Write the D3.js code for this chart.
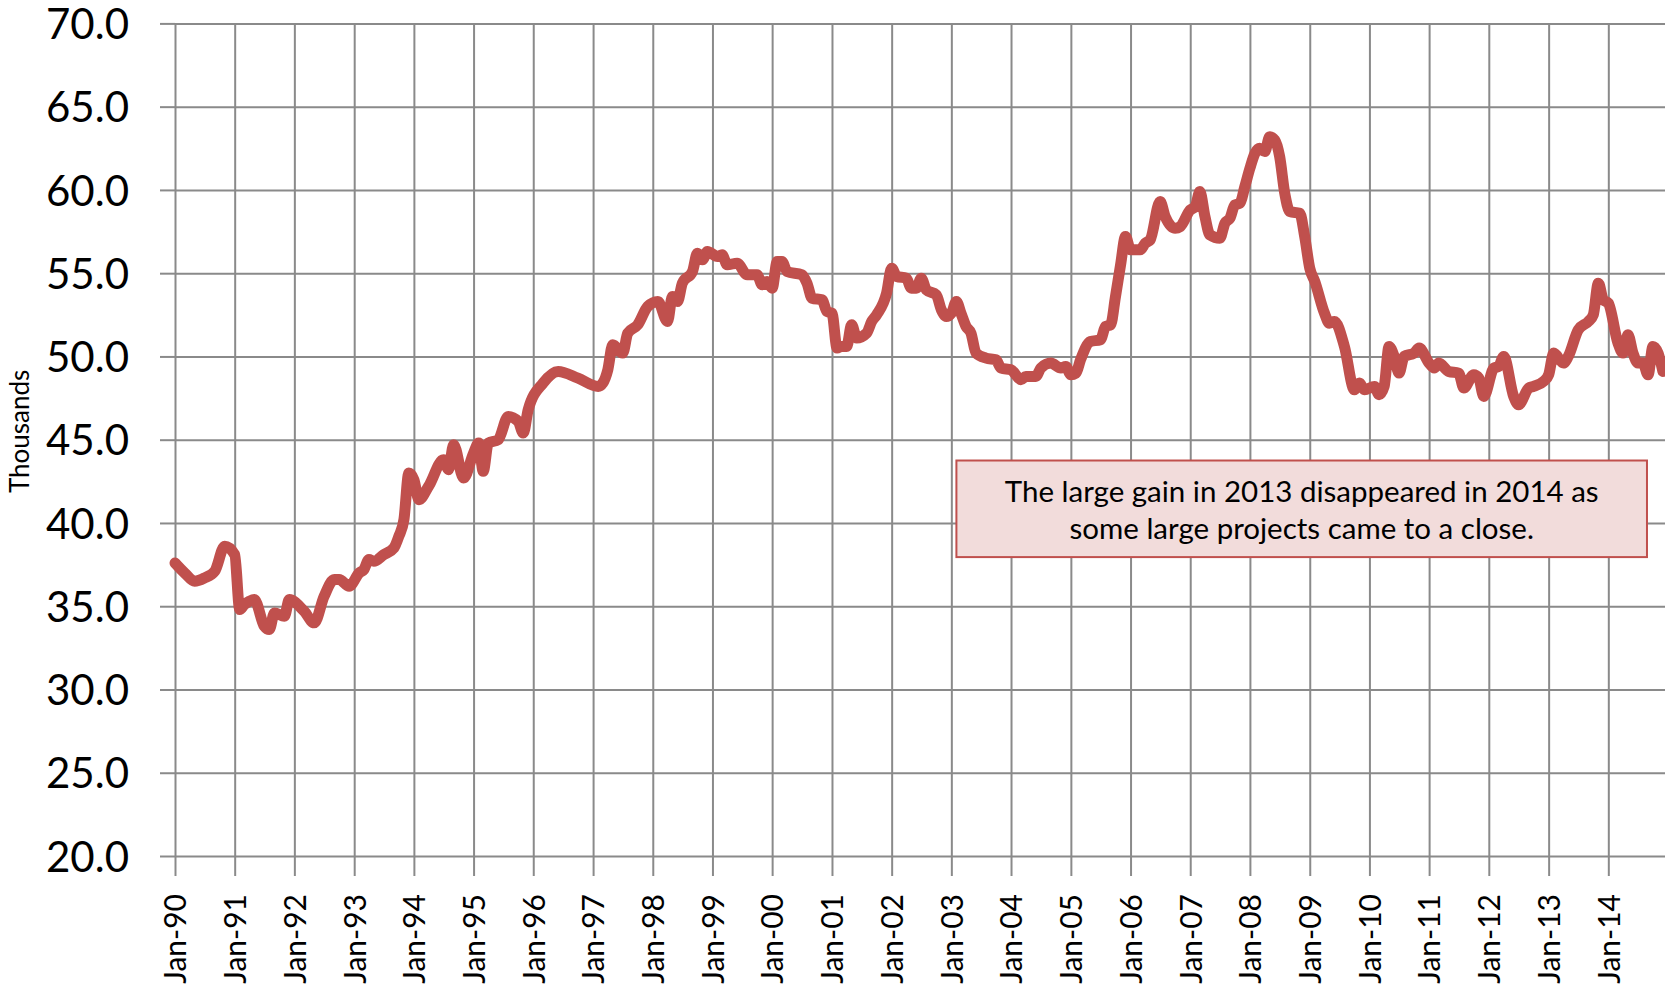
<!DOCTYPE html>
<html>
<head>
<meta charset="utf-8">
<title>Thousands, 1990-2014</title>
<script src="https://d3js.org/d3.v7.min.js"></script>
<style>
  body { margin: 0; background: #fff; }
  svg { display: block; }
  .grid line { stroke: #8a8a8a; stroke-width: 2; }
  .tick text { font-family: Lato, "Open Sans", sans-serif; fill: #000; }
  .series { fill: none; stroke: #c0504d; stroke-width: 11; stroke-linejoin: round; stroke-linecap: round; }
  .note rect { fill: #f2dcdb; stroke: #c0504d; stroke-width: 2; }
  .note text { font-family: Lato, "Open Sans", sans-serif; font-size: 29.5px; fill: #000; text-anchor: middle; }
</style>
</head>
<body>
<div id="chart"></div>
<script>
// months (YYYY-MM) and values, in thousands
var months = [
  "1990-01","1990-03","1990-05","1990-07","1990-09","1990-11","1991-01","1991-02","1991-03","1991-04",
  "1991-05","1991-07","1991-08","1991-09","1991-11","1991-12","1992-03","1992-05","1992-07","1992-09",
  "1992-10","1992-12","1993-02","1993-03","1993-04","1993-05","1993-07","1993-09","1993-10","1993-11",
  "1993-12","1994-01","1994-02","1994-04","1994-07","1994-08","1994-09","1994-11","1995-01","1995-02",
  "1995-03","1995-04","1995-06","1995-08","1995-10","1995-11","1995-12","1996-03","1996-06","1996-10",
  "1997-02","1997-03","1997-04","1997-05","1997-07","1997-08","1997-10","1997-12","1998-02","1998-04",
  "1998-05","1998-06","1998-07","1998-09","1998-10","1998-11","1998-12","1999-02","1999-03","1999-04",
  "1999-06","1999-08","1999-10","1999-11","1999-12","2000-01","2000-02","2000-03","2000-04","2000-07",
  "2000-08","2000-09","2000-11","2000-12","2001-01","2001-02","2001-03","2001-04","2001-05","2001-06",
  "2001-08","2001-09","2001-10","2001-12","2002-01","2002-02","2002-04","2002-05","2002-06","2002-07",
  "2002-08","2002-10","2002-11","2002-12","2003-01","2003-02","2003-03","2003-04","2003-05","2003-06",
  "2003-08","2003-10","2003-11","2004-01","2004-03","2004-04","2004-06","2004-07","2004-09","2004-11",
  "2004-12","2005-01","2005-02","2005-03","2005-05","2005-07","2005-08","2005-09","2005-10","2005-11",
  "2005-12","2006-01","2006-03","2006-04","2006-05","2006-07","2006-08","2006-10","2006-11","2007-01",
  "2007-02","2007-03","2007-04","2007-05","2007-07","2007-08","2007-09","2007-10","2007-11","2007-12",
  "2008-01","2008-02","2008-03","2008-04","2008-05","2008-06","2008-07","2008-08","2008-09","2008-11",
  "2008-12","2009-01","2009-02","2009-04","2009-05","2009-06","2009-08","2009-10","2009-11","2009-12",
  "2010-02","2010-03","2010-04","2010-05","2010-06","2010-07","2010-08","2010-10","2010-11","2011-01",
  "2011-02","2011-03","2011-05","2011-07","2011-08","2011-10","2011-11","2011-12","2012-02","2012-03",
  "2012-04","2012-06","2012-07","2012-09","2012-10","2012-12","2013-01","2013-02","2013-04","2013-05",
  "2013-07","2013-09","2013-10","2013-11","2013-12","2014-01","2014-03","2014-04","2014-05","2014-06",
  "2014-07","2014-08","2014-09","2014-10","2014-11","2014-12"
];
var values = [
  37.6, 37.0, 36.5, 36.7, 37.1, 38.6, 38.1, 34.8, 35.1, 35.3,
  35.4, 33.8, 33.6, 34.6, 34.4, 35.4, 34.7, 34.0, 35.6, 36.6,
  36.6, 36.2, 37.0, 37.2, 37.8, 37.7, 38.1, 38.5, 39.2, 40.2,
  43.0, 42.6, 41.4, 42.2, 43.8, 43.2, 44.7, 42.7, 44.2, 44.8,
  43.1, 44.8, 45.0, 46.4, 46.1, 45.4, 46.8, 48.4, 49.1, 48.7,
  48.2, 48.4, 49.2, 50.7, 50.2, 51.4, 51.9, 53.0, 53.3, 52.1,
  53.6, 53.3, 54.4, 55.1, 56.2, 55.8, 56.3, 56.0, 56.1, 55.5,
  55.6, 54.9, 54.9, 54.3, 54.5, 54.1, 55.7, 55.7, 55.1, 54.9,
  54.4, 53.5, 53.4, 52.7, 52.6, 50.5, 50.6, 50.6, 51.9, 51.1,
  51.4, 52.1, 52.5, 53.8, 55.3, 54.8, 54.7, 54.1, 54.1, 54.7,
  54.0, 53.7, 52.8, 52.4, 52.6, 53.3, 52.6, 51.8, 51.4, 50.2,
  49.9, 49.8, 49.3, 49.2, 48.6, 48.8, 48.8, 49.3, 49.6, 49.3,
  49.4, 48.9, 49.0, 49.8, 50.9, 51.0, 51.8, 51.9, 53.6, 55.5,
  57.2, 56.4, 56.4, 56.8, 57.0, 59.3, 58.4, 57.7, 57.8, 58.8,
  59.0, 59.9, 58.4, 57.3, 57.1, 58.0, 58.3, 59.1, 59.2, 60.2,
  61.3, 62.2, 62.5, 62.3, 63.2, 63.0, 62.0, 59.8, 58.7, 58.6,
  57.2, 55.3, 54.5, 52.6, 52.0, 52.1, 50.6, 48.0, 48.4, 48.0,
  48.2, 47.7, 48.2, 50.6, 50.0, 49.0, 50.0, 50.2, 50.5, 49.6,
  49.3, 49.6, 49.1, 49.0, 48.1, 48.9, 48.7, 47.6, 49.3, 49.4,
  50.0, 47.6, 47.1, 48.1, 48.2, 48.5, 48.9, 50.2, 49.6, 50.0,
  51.6, 52.1, 52.5, 54.4, 53.4, 53.2, 50.8, 50.2, 51.3, 50.2,
  49.6, 49.6, 48.9, 50.6, 50.2, 49.1
];
var yTicks = [20, 25, 30, 35, 40, 45, 50, 55, 60, 65, 70];
var yLabel = "Thousands";
var noteLines = ["The large gain in 2013 disappeared in 2014 as",
                 "some large projects came to a close."];

var width = 1665, height = 984;
var parse = d3.timeParse("%Y-%m");
var data = months.map(function(m, i) { return { date: parse(m), value: values[i] }; });

var x = d3.scaleTime()
    .domain([parse("1990-01"), parse("2015-01")])
    .range([175, 1668]);
var y = d3.scaleLinear()
    .domain([20, 70])
    .range([856, 23.4]);

var svg = d3.select("#chart").append("svg")
    .attr("width", width)
    .attr("height", height);

// y axis + horizontal grid
var yAxis = svg.append("g")
    .attr("class", "grid")
    .attr("transform", "translate(175,0)")
    .call(d3.axisLeft(y).tickValues(yTicks).tickFormat(d3.format(".1f"))
      .tickSize(15).tickPadding(31));
yAxis.select(".domain").remove();
yAxis.selectAll(".tick line").clone()
    .attr("x1", 0).attr("x2", width - 175);
yAxis.selectAll(".tick text").style("font-size", "42px").attr("dy", "0.36em");

// x axis + vertical grid (Jan-90 .. Jan-14)
var yearTicks = d3.timeYear.range(parse("1990-01"), parse("2014-02"));
var xAxis = svg.append("g")
    .attr("class", "grid")
    .attr("transform", "translate(0,856)")
    .call(d3.axisBottom(x).tickValues(yearTicks).tickFormat(d3.timeFormat("%b-%y"))
      .tickSize(20));
xAxis.select(".domain").remove();
xAxis.selectAll(".tick line").clone()
    .attr("y1", 0).attr("y2", y(70) - 856);
xAxis.selectAll(".tick text")
    .style("font-size", "30px")
    .style("text-anchor", "end")
    .attr("transform", "rotate(-90)")
    .attr("x", -38)
    .attr("y", 0)
    .attr("dy", "0.36em");

// y axis title
svg.append("text")
    .attr("transform", "translate(20," + y(45.5) + ") rotate(-90)")
    .attr("dy", "0.35em")
    .style("text-anchor", "middle")
    .style("font-family", "Lato, 'Open Sans', sans-serif")
    .style("font-size", "26px")
    .text(yLabel);

// series
var line = d3.line()
    .x(function(d) { return x(d.date); })
    .y(function(d) { return y(d.value); })
    .curve(d3.curveMonotoneX);

svg.append("path")
    .datum(data)
    .attr("class", "series")
    .attr("d", line);

// annotation box, anchored in data units
var nx0 = x(parse("2003-02")), nx1 = x(parse("2014-08")) + 4;
var ny0 = y(43.75), ny1 = y(37.95);
var note = svg.append("g").attr("class", "note");
note.append("rect")
    .attr("x", nx0).attr("y", ny0)
    .attr("width", nx1 - nx0).attr("height", ny1 - ny0);
note.selectAll("text")
    .data(noteLines)
    .enter().append("text")
    .attr("x", (nx0 + nx1) / 2)
    .attr("y", function(d, i) { return ny0 + 41 + i * 37; })
    .text(function(d) { return d; });
</script>
</body>
</html>
